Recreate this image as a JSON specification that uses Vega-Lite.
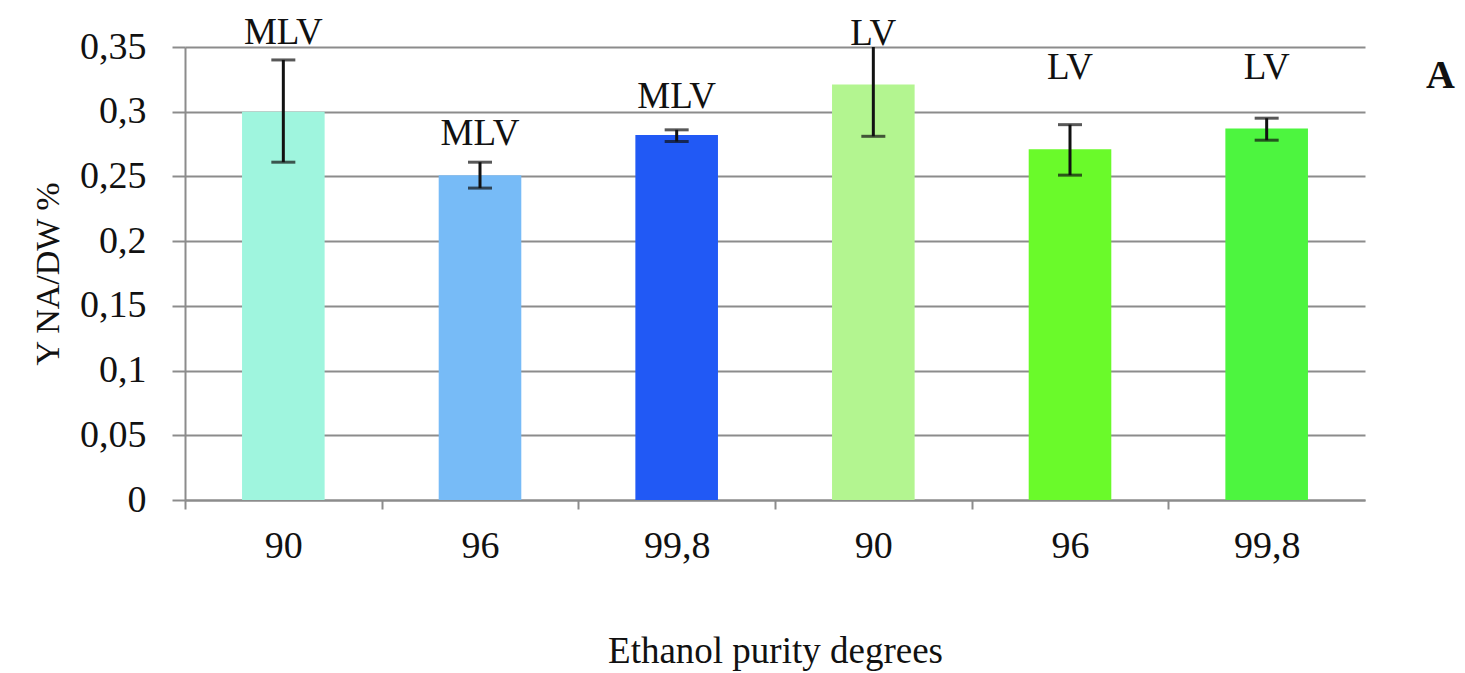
{
  "$schema": "https://vega.github.io/schema/vega-lite/v6.json",
  "width": 1180,
  "height": 453,
  "autosize": {"type": "none"},
  "padding": {"left": 185, "top": 47, "right": 100, "bottom": 173},
  "background": "white",
  "title": {"text": "A", "orient": "top", "anchor": "end", "dx": 90, "dy": 86, "fontSize": 40, "font": "Liberation Serif", "fontWeight": "bold", "color": "#111"},
  "data": {"values": [
    {"cat": "MLV|90", "group": "MLV", "value": 0.30, "lo": 0.261, "hi": 0.340, "label_pos": 0.361, "color": "#9ff5de"},
    {"cat": "MLV|96", "group": "MLV", "value": 0.251, "lo": 0.241, "hi": 0.261, "label_pos": 0.283, "color": "#77bbf7"},
    {"cat": "MLV|99,8", "group": "MLV", "value": 0.282, "lo": 0.277, "hi": 0.286, "label_pos": 0.311, "color": "#2159f5"},
    {"cat": "LV|90", "group": "LV", "value": 0.321, "lo": 0.281, "hi": 0.362, "label_pos": 0.360, "color": "#b3f590"},
    {"cat": "LV|96", "group": "LV", "value": 0.271, "lo": 0.251, "hi": 0.290, "label_pos": 0.334, "color": "#6afa2a"},
    {"cat": "LV|99,8", "group": "LV", "value": 0.287, "lo": 0.278, "hi": 0.295, "label_pos": 0.334, "color": "#4df53f"}
  ]},
  "encoding": {
    "x": {"field": "cat", "type": "nominal", "sort": null,
      "scale": {"paddingInner": 0.58, "paddingOuter": 0.29},
      "axis": {"labelExpr": "split(datum.value, '|')[1]", "labelAngle": 0, "labelFont": "Liberation Serif", "labelFontSize": 38, "labelColor": "#111", "labelPadding": 18, "tickOffset": -98.33, "labelOffset": 98.33, "tickSize": 9, "tickColor": "#8c8c8c", "tickWidth": 2, "domainColor": "#8c8c8c", "domainWidth": 2,
        "title": "Ethanol purity degrees", "titleFont": "Liberation Serif", "titleFontSize": 37, "titleFontWeight": "normal", "titleColor": "#111", "titlePadding": 68}}
  },
  "layer": [
    {
      "mark": {"type": "bar"},
      "encoding": {
        "y": {"field": "value", "type": "quantitative",
          "scale": {"domain": [0, 0.35], "nice": false},
          "axis": {"values": [0, 0.05, 0.1, 0.15, 0.2, 0.25, 0.3, 0.35], "labelExpr": "replace(format(datum.value, '.2~f'), '.', ',')", "labelFont": "Liberation Serif", "labelFontSize": 38, "labelColor": "#111", "labelPadding": 26, "tickSize": 13, "tickColor": "#8c8c8c", "tickWidth": 2, "domainColor": "#8c8c8c", "domainWidth": 2, "grid": true, "gridColor": "#8c8c8c", "gridWidth": 2,
            "title": "Y NA/DW %", "titleFont": "Liberation Serif", "titleFontSize": 34, "titleFontWeight": "normal", "titleColor": "#111", "titlePadding": 14}},
        "color": {"field": "color", "type": "nominal", "scale": null}
      }
    },
    {
      "mark": {"type": "rule", "color": "#111", "strokeWidth": 3, "clip": true},
      "encoding": {
        "y": {"field": "lo", "type": "quantitative"},
        "y2": {"field": "hi"}
      }
    },
    {
      "mark": {"type": "tick", "color": "#111", "thickness": 3, "size": 24, "clip": true},
      "encoding": {"y": {"field": "lo", "type": "quantitative"}}
    },
    {
      "mark": {"type": "tick", "color": "#111", "thickness": 3, "size": 24, "clip": true},
      "encoding": {"y": {"field": "hi", "type": "quantitative"}}
    },
    {
      "mark": {"type": "text", "font": "Liberation Serif", "fontSize": 37, "color": "#111", "baseline": "middle"},
      "encoding": {
        "y": {"field": "label_pos", "type": "quantitative"},
        "text": {"field": "group"}
      }
    }
  ],
  "config": {"font": "Liberation Serif", "view": {"stroke": null}, "style": {"guide-label": {"font": "Liberation Serif"}, "guide-title": {"font": "Liberation Serif"}}}
}
